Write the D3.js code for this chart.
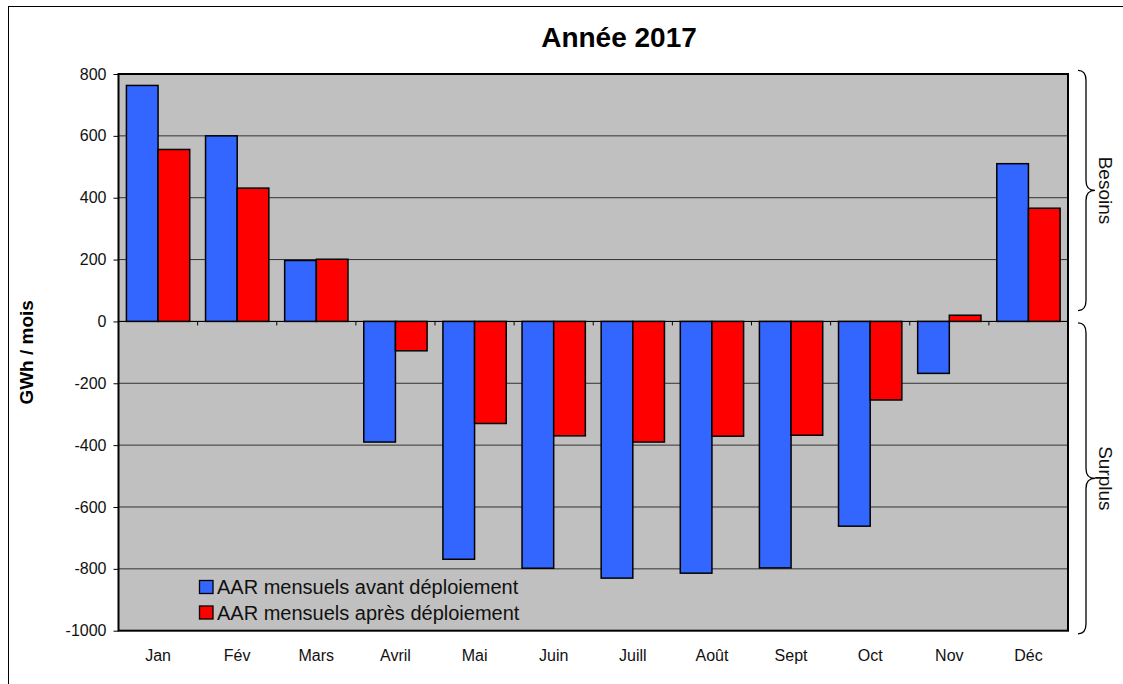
<!DOCTYPE html>
<html>
<head>
<meta charset="utf-8">
<script src="https://cdn.jsdelivr.net/npm/d3@7"></script>
<style>
  body { margin: 0; background: #fff; }
  svg { font-family: "Liberation Sans", Arial, sans-serif; }
</style>
</head>
<body>
<svg id="chart" width="1123" height="684"></svg>
<script>
// données
const months = ["Jan", "Fév", "Mars", "Avril", "Mai", "Juin", "Juill", "Août", "Sept", "Oct", "Nov", "Déc"];
const avant = [763, 600, 197, -390, -769, -798, -830, -814, -797, -662, -168, 510];
const apres = [556, 431, 201, -95, -330, -370, -390, -371, -368, -254, 20, 366];
const yTicks = [800, 600, 400, 200, 0, -200, -400, -600, -800, -1000];
const seriesNames = ["AAR mensuels avant déploiement", "AAR mensuels après déploiement"];
const colors = ["#3366ff", "#ff0000"];

const svg = d3.select("#chart");
const margin = { left: 118.5, top: 74, right: 1123 - 1068, bottom: 684 - 630.7 };
const width = 1123 - margin.left - margin.right;
const height = 684 - margin.top - margin.bottom;

// cadre extérieur
svg.append("rect").attr("x", 8.5).attr("y", 6.5).attr("width", 1130).attr("height", 700)
  .attr("fill", "none").attr("stroke", "#000").attr("stroke-width", 1);

const g = svg.append("g").attr("transform", `translate(${margin.left},${margin.top})`);

const xCell = d3.scaleBand().domain(months).range([0, width]);
const x1 = d3.scaleBand().domain([0, 1]).range([xCell.bandwidth() * 0.1, xCell.bandwidth() * 0.9]);
const y = d3.scaleLinear().domain([-1000, 800]).range([height, 0]);

g.append("rect").attr("width", width).attr("height", height).attr("fill", "#c0c0c0");

// grille
g.append("g").selectAll("line").data(yTicks.filter(d => d !== 800 && d !== -1000)).join("line")
  .attr("x1", 0).attr("x2", width).attr("y1", d => y(d)).attr("y2", d => y(d))
  .attr("stroke", "#333").attr("stroke-width", 1);

// axe Y
const yAxis = g.append("g").call(d3.axisLeft(y).tickValues(yTicks).tickSize(5).tickPadding(7).tickFormat(d => String(d)));
yAxis.select(".domain").remove();
yAxis.selectAll("text").attr("font-size", 16).attr("fill", "#111");
yAxis.selectAll("line").attr("stroke", "#000");

// barres
const groups = g.append("g").selectAll("g").data(months).join("g")
  .attr("transform", d => `translate(${xCell(d)},0)`);
groups.selectAll("rect").data((m, i) => [avant[i], apres[i]]).join("rect")
  .attr("x", (d, j) => x1(j))
  .attr("width", x1.bandwidth())
  .attr("y", d => y(Math.max(0, d)))
  .attr("height", d => Math.abs(y(d) - y(0)))
  .attr("fill", (d, j) => colors[j])
  .attr("stroke", "#000").attr("stroke-width", 1.5);

// axe X au zéro : graduations entre catégories
g.append("g").selectAll("line").data(d3.range(1, months.length)).join("line")
  .attr("x1", i => i * xCell.step()).attr("x2", i => i * xCell.step())
  .attr("y1", y(0)).attr("y2", y(0) + 4).attr("stroke", "#000");
g.append("line").attr("x1", 0).attr("x2", width).attr("y1", y(0)).attr("y2", y(0))
  .attr("stroke", "#000").attr("stroke-width", 1);

// libellés des mois
g.append("g").selectAll("text").data(months).join("text")
  .attr("x", d => xCell(d) + xCell.bandwidth() / 2).attr("y", height + 30)
  .attr("text-anchor", "middle").attr("font-size", 16).attr("fill", "#111").text(d => d);

// bordure zone de tracé
g.append("rect").attr("width", width).attr("height", height)
  .attr("fill", "none").attr("stroke", "#000").attr("stroke-width", 2);

// légende
const leg = g.append("g").attr("transform", `translate(${199.5 - margin.left},${587 - margin.top})`);
seriesNames.forEach((name, i) => {
  leg.append("rect").attr("x", 0).attr("y", i * 25.5 - 6.5).attr("width", 13.5).attr("height", 13)
    .attr("fill", colors[i]).attr("stroke", "#000").attr("stroke-width", 1.3);
  leg.append("text").attr("x", 17.5).attr("y", i * 25.5).attr("dy", "0.35em")
    .attr("font-size", 20).attr("fill", "#111").text(name);
});

// titre
svg.append("text").attr("x", 619).attr("y", 47).attr("text-anchor", "middle")
  .attr("font-size", 28).attr("font-weight", "bold").text("Année 2017");

// titre axe Y
svg.append("text").attr("transform", `translate(33,${margin.top + height / 2}) rotate(-90)`)
  .attr("text-anchor", "middle").attr("font-size", 19).attr("font-weight", "bold").text("GWh / mois");

// accolades à droite
function brace(y0, y1) {
  const xa = 1078, xb = 1086, xc = 1095, ym = (y0 + y1) / 2;
  return `M${xa},${y0} Q${xb},${y0} ${xb},${y0 + 10} L${xb},${ym - 10} Q${xb},${ym} ${xc},${ym}` +
         ` Q${xb},${ym} ${xb},${ym + 10} L${xb},${y1 - 10} Q${xb},${y1} ${xa},${y1}`;
}
const braces = [
  { label: "Besoins", top: 812, bottom: 35 },
  { label: "Surplus", top: -5, bottom: -1010 }
];
braces.forEach(b => {
  const y0 = margin.top + y(b.top), y1 = margin.top + y(b.bottom);
  svg.append("path").attr("d", brace(y0, y1)).attr("fill", "none").attr("stroke", "#000").attr("stroke-width", 1.3);
  svg.append("text").attr("transform", `translate(1099,${(y0 + y1) / 2}) rotate(90)`)
    .attr("text-anchor", "middle").attr("font-size", 19).attr("fill", "#111").text(b.label);
});
</script>
</body>
</html>
